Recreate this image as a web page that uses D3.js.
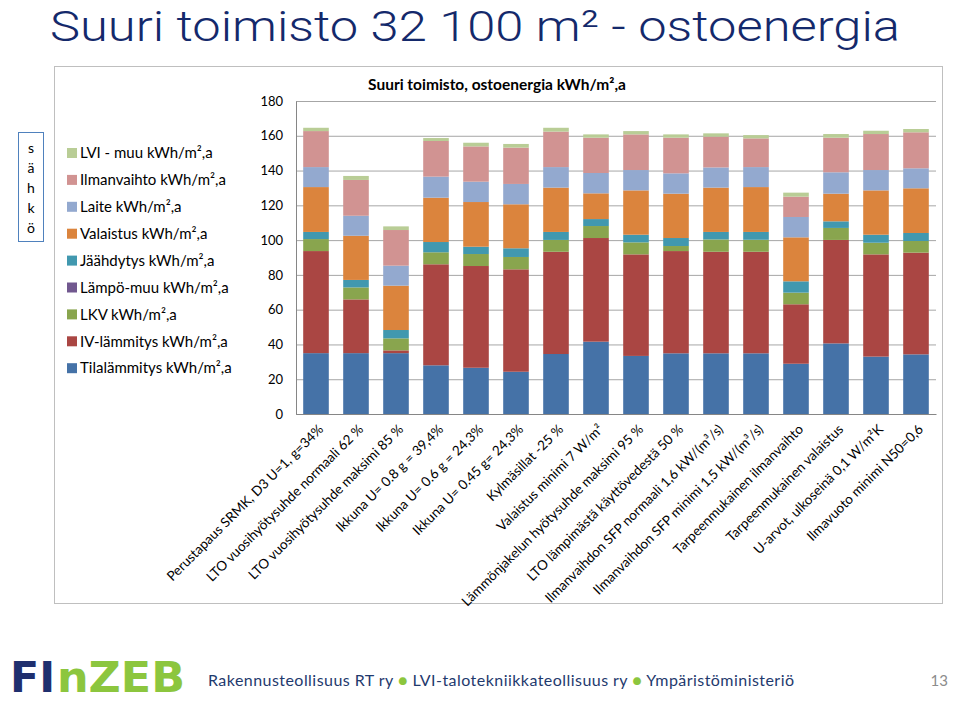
<!DOCTYPE html>
<html>
<head>
<meta charset="utf-8">
<script src="https://cdn.jsdelivr.net/npm/d3@7"></script>
<style>
  body { margin: 0; background: #fff; }
  svg { display: block; font-family: Lato, "Open Sans", sans-serif; }
</style>
</head>
<body>
<div id="chart"></div>
<script>
// categories (x axis)
const categories = [
  'Perustapaus SRMK, D3 U=1, g=34%',
  'LTO vuosihyötysuhde normaali 62 %',
  'LTO vuosihyötysuhde maksimi 85 %',
  'Ikkuna U= 0.8 g = 39,4%',
  'Ikkuna U= 0.6 g = 24,3%',
  'Ikkuna U= 0.45 g= 24,3%',
  'Kylmäsillat -25 %',
  'Valaistus minimi 7 W/m²',
  'Lämmönjakelun hyötysuhde maksimi 95 %',
  'LTO lämpimästä käyttövedestä 50 %',
  'Ilmanvaihdon SFP normaali 1,6 kW/(m³/s)',
  'Ilmanvaihdon SFP minimi 1,5 kW/(m³/s)',
  'Tarpeenmukainen ilmanvaihto',
  'Tarpeenmukainen valaistus',
  'U-arvot, ulkoseinä 0,1 W/m²K',
  'Ilmavuoto minimi N50=0,6'
];

// series, bottom to top of the stack
const seriesNames = [
  'Tilalämmitys kWh/m²,a',
  'IV-lämmitys kWh/m²,a',
  'LKV kWh/m²,a',
  'Lämpö-muu kWh/m²,a',
  'Jäähdytys kWh/m²,a',
  'Valaistus kWh/m²,a',
  'Laite kWh/m²,a',
  'Ilmanvaihto kWh/m²,a',
  'LVI - muu kWh/m²,a'
];
const seriesColors = ['#4572A7', '#AA4643', '#89A54E', '#71588F', '#4198AF', '#DB843D', '#93A9CF', '#D19392', '#B9CD96'];

const tilalammitys = [35, 35, 35, 28, 26.6, 24.3, 34.5, 41.6, 33.4, 34.9, 34.9, 34.9, 28.9, 40.6, 33, 34.3];
const ivLammitys   = [58.7, 30.9, 1.6, 58.1, 58.5, 58.9, 58.8, 59.6, 58.4, 58.8, 58.4, 58.4, 34.2, 59.5, 58.8, 58.5];
const lkv          = [6.9, 6.9, 6.9, 6.9, 6.9, 7.1, 6.8, 6.9, 6.9, 2.9, 7.1, 6.9, 6.7, 6.9, 6.7, 6.7];
const lampoMuu     = [0, 0, 0, 0, 0, 0, 0, 0, 0, 0, 0, 0, 0, 0, 0, 0];
const jaahdytys    = [4.1, 4.3, 4.8, 5.9, 4.2, 5.0, 4.6, 4.0, 4.4, 4.6, 4.3, 4.5, 6.5, 3.8, 4.6, 4.6];
const valaistus    = [25.8, 25.4, 25.5, 25.5, 25.7, 25.3, 25.5, 14.8, 25.5, 25.5, 25.5, 25.8, 25.3, 15.9, 25.5, 25.7];
const laite        = [11.5, 11.5, 11.5, 12.1, 11.7, 11.7, 11.8, 11.7, 11.7, 11.7, 11.6, 11.5, 11.7, 12.3, 11.7, 11.5];
const ilmanvaihto  = [20.7, 20.6, 20.5, 20.5, 20.3, 20.9, 20.4, 20.3, 20.5, 20.5, 17.7, 16.5, 11.7, 19.9, 20.7, 20.7];
const lviMuu       = [1.9, 2.3, 2.1, 1.7, 2.1, 2.1, 2.2, 1.9, 1.9, 1.9, 1.9, 1.9, 2.3, 2.1, 1.9, 1.9];

const yTicks = [0, 20, 40, 60, 80, 100, 120, 140, 160, 180];

class StackedBarChart {

  constructor(_config) {
    this.config = {
      parentElement: _config.parentElement,
      containerWidth: 960,
      containerHeight: 702,
      plot: { left: 296, right: 936, top: 101, bottom: 414 }
    };
    this.series = [tilalammitys, ivLammitys, lkv, lampoMuu, jaahdytys, valaistus, laite, ilmanvaihto, lviMuu];
    this.initVis();
  }

  initVis() {
    let vis = this;
    const p = vis.config.plot;

    vis.svg = d3.select(vis.config.parentElement)
      .append('svg')
      .attr('width', vis.config.containerWidth)
      .attr('height', vis.config.containerHeight);

    // slide title
    vis.svg.append('text')
      .attr('x', 50).attr('y', 41)
      .attr('font-size', 43)
      .attr('font-weight', 300)
      .attr('font-family', 'Roboto, sans-serif')
      .attr('fill', '#14296B')
      .attr('textLength', 850)
      .attr('lengthAdjust', 'spacingAndGlyphs')
      .text('Suuri toimisto 32 100 m² - ostoenergia');

    // chart frame
    vis.svg.append('rect')
      .attr('x', 54.5).attr('y', 66.5)
      .attr('width', 888).attr('height', 537)
      .attr('fill', 'none')
      .attr('stroke', '#BFBFBF');

    vis.svg.append('text')
      .attr('x', 497).attr('y', 90)
      .attr('text-anchor', 'middle')
      .attr('font-size', 15.5)
      .attr('font-weight', 'bold')
      .text('Suuri toimisto, ostoenergia kWh/m²,a');

    // scales
    vis.xScale = d3.scaleBand()
      .domain(categories)
      .range([p.left, p.right])
      .paddingInner(0.36)
      .paddingOuter(0.18);

    vis.yScale = d3.scaleLinear()
      .domain([0, 180])
      .range([p.bottom, p.top]);

    vis.chartArea = vis.svg.append('g');

    vis.updateVis();
  }

  updateVis() {
    let vis = this;
    const table = categories.map((c, i) => {
      const row = { category: c };
      seriesNames.forEach((s, j) => { row[s] = vis.series[j][i]; });
      return row;
    });
    vis.stacked = d3.stack().keys(seriesNames)(table);
    vis.renderVis();
  }

  renderVis() {
    let vis = this;
    const p = vis.config.plot;

    // gridlines
    vis.chartArea.append('g')
      .attr('transform', `translate(${p.left},0)`)
      .call(d3.axisLeft(vis.yScale).tickValues(yTicks).tickSize(-(p.right - p.left)).tickFormat(''))
      .call(g => g.select('.domain').remove())
      .call(g => g.selectAll('line').attr('stroke', '#A6A6A6'));

    // bars
    vis.chartArea.selectAll('.layer')
      .data(vis.stacked)
      .join('g')
      .attr('class', 'layer')
      .attr('fill', (d, i) => seriesColors[i])
      .selectAll('rect')
      .data(d => d)
      .join('rect')
      .attr('x', d => vis.xScale(d.data.category))
      .attr('y', d => vis.yScale(d[1]))
      .attr('width', vis.xScale.bandwidth())
      .attr('height', d => vis.yScale(d[0]) - vis.yScale(d[1]));

    // y axis
    vis.chartArea.append('g')
      .attr('transform', `translate(${p.left},0)`)
      .call(d3.axisLeft(vis.yScale).tickValues(yTicks).tickSize(0).tickPadding(13))
      .call(g => g.select('.domain').attr('stroke', '#868686'))
      .call(g => g.selectAll('text').attr('font-size', 13).attr('fill', '#000').attr('font-family', 'Lato, sans-serif'));

    // x axis
    vis.chartArea.append('g')
      .attr('transform', `translate(0,${p.bottom})`)
      .call(d3.axisBottom(vis.xScale).tickSize(0))
      .call(g => g.select('.domain').attr('stroke', '#868686'))
      .call(g => g.selectAll('text')
        .attr('font-size', 13.5)
        .attr('fill', '#000')
        .attr('font-family', 'Lato, sans-serif')
        .attr('text-anchor', 'end')
        .attr('dy', 0)
        .attr('transform', 'translate(6,14) rotate(-45)'));

    // legend
    const legendItems = seriesNames.map((s, i) => ({ name: s, color: seriesColors[i] })).reverse();
    const legend = vis.svg.append('g').attr('transform', 'translate(67,153)');
    const item = legend.selectAll('g')
      .data(legendItems)
      .join('g')
      .attr('transform', (d, i) => `translate(0,${i * 26.9})`);
    item.append('rect')
      .attr('x', 0).attr('y', -5)
      .attr('width', 10).attr('height', 10)
      .attr('fill', d => d.color);
    item.append('text')
      .attr('x', 13).attr('y', 0)
      .attr('dy', '0.35em')
      .attr('font-size', 15)
      .text(d => d.name);

    // "sähkö" box
    vis.svg.append('rect')
      .attr('x', 18.5).attr('y', 132.5)
      .attr('width', 25).attr('height', 109)
      .attr('fill', 'none')
      .attr('stroke', '#4F81BD');
    vis.svg.append('g').selectAll('text')
      .data(['s', 'ä', 'h', 'k', 'ö'])
      .join('text')
      .attr('x', 31).attr('y', (d, i) => 148 + i * 20)
      .attr('dy', '0.35em')
      .attr('text-anchor', 'middle')
      .attr('font-size', 14)
      .text(d => d);

    // footer logo
    const logoParts = [
      { text: 'FI', x: 10, len: 45, color: '#1F2F6E' },
      { text: 'nZEB', x: 57, len: 128, color: '#8CC63E' }
    ];
    vis.svg.append('g').selectAll('text')
      .data(logoParts)
      .join('text')
      .attr('x', d => d.x).attr('y', 692)
      .attr('font-size', 42)
      .attr('font-weight', 900)
      .attr('font-family', '"DejaVu Sans", sans-serif')
      .attr('fill', d => d.color)
      .attr('textLength', d => d.len)
      .attr('lengthAdjust', 'spacingAndGlyphs')
      .text(d => d.text);

    const footer = vis.svg.append('text')
      .attr('x', 208).attr('y', 686)
      .attr('font-size', 16)
      .attr('fill', '#1F3A6E')
      .attr('textLength', 586)
      .attr('lengthAdjust', 'spacing');
    footer.append('tspan').text('Rakennusteollisuus RT ry  ');
    footer.append('tspan').attr('fill', '#8CC63E').text('●');
    footer.append('tspan').text('  LVI-talotekniikkateollisuus ry  ');
    footer.append('tspan').attr('fill', '#8CC63E').text('●');
    footer.append('tspan').text('  Ympäristöministeriö');

    vis.svg.append('text')
      .attr('x', 948).attr('y', 686)
      .attr('text-anchor', 'end')
      .attr('font-size', 15)
      .attr('fill', '#8C8C8C')
      .text('13');
  }
}

new StackedBarChart({ parentElement: '#chart' });
</script>
</body>
</html>
